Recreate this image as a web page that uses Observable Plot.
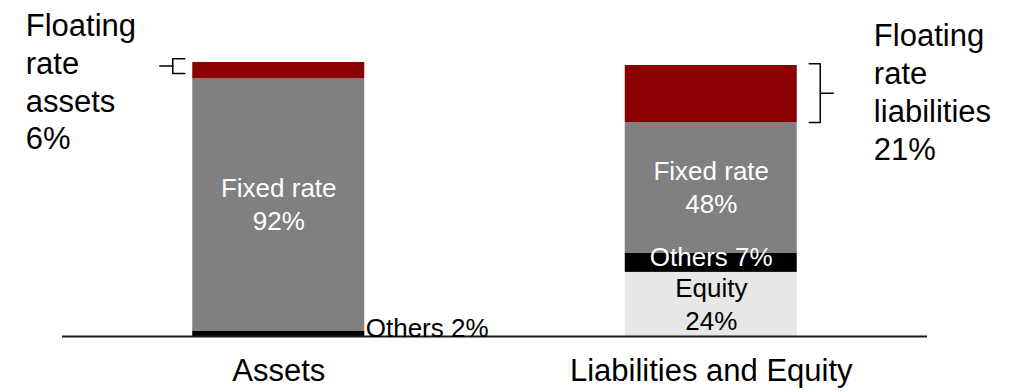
<!DOCTYPE html>
<html>
<head>
<meta charset="utf-8">
<script src="https://cdn.jsdelivr.net/npm/d3@7"></script>
<script src="https://cdn.jsdelivr.net/npm/@observablehq/plot@0.6"></script>
<style>
  html, body { margin: 0; padding: 0; background: #fff; }
  #chart svg { display: block; }
</style>
</head>
<body>
<div id="chart"></div>
<script>
// ---- data ----
const categories = ["Assets", "Liabilities and Equity"];
const assetSegments = ["Others", "Fixed rate", "Floating rate"];
const assetValues = [2, 92, 6];
const assetLabels = ["Others 2%", "Fixed rate\n92%", ""];
const liabilitySegments = ["Equity", "Others", "Fixed rate", "Floating rate"];
const liabilityValues = [23.4, 6.9, 47.8, 20.8];
const liabilityLabels = ["Equity\n24%", "Others 7%", "Fixed rate\n48%", ""];
const annotationLabels = ["Floating\nrate\nassets\n6%", "Floating\nrate\nliabilities\n21%"];

const segmentColors = {
  "Others": "#000000",
  "Fixed rate": "#808080",
  "Floating rate": "#8b0000",
  "Equity": "#e6e7e6"
};
const labelColors = {
  "Others": "#ffffff",
  "Fixed rate": "#ffffff",
  "Floating rate": "#ffffff",
  "Equity": "#000000"
};

// ---- build stacked rows ----
function buildRows(i, segs, vals, labels) {
  const ends = d3.cumsum(vals);
  return segs.map((s, k) => ({
    i, seg: s, value: vals[k], label: labels[k],
    y1: ends[k] - vals[k], y2: ends[k]
  }));
}
const rows = [
  ...buildRows(0, assetSegments, assetValues, assetLabels),
  ...buildRows(1, liabilitySegments, liabilityValues, liabilityLabels)
];

const pxPerUnit = 432.5;      // layout helper: pixels per category step
const hw = 86 / pxPerUnit;    // half bar width
const u = px => px / pxPerUnit;

const blockLabels = rows.filter(d => d.label && d.label.includes("\n"));
const othersInner = rows.filter(d => d.i === 1 && d.seg === "Others");
const outsideLabel = rows.filter(d => d.i === 0 && d.seg === "Others");

// brackets derived from floating segments
const fa = rows.find(d => d.i === 0 && d.seg === "Floating rate");
const fl = rows.find(d => d.i === 1 && d.seg === "Floating rate");
const lx = -hw;
const rx = 1 + hw;
const aTop = fa.y2 + 1.4, aBot = fa.y1 + 2.0, aMid = (aTop + aBot) / 2;
const lTop = fl.y2 + 0.6, lBot = fl.y1, lMid = (lTop + lBot) / 2;
const bracketPts = [
  {part: "a", x: lx - u(8), y: aTop},
  {part: "a", x: lx - u(20), y: aTop},
  {part: "a", x: lx - u(20), y: aBot},
  {part: "a", x: lx - u(8), y: aBot},
  {part: "at", x: lx - u(20), y: aMid},
  {part: "at", x: lx - u(33), y: aMid},
  {part: "l", x: rx + u(12), y: lTop},
  {part: "l", x: rx + u(23), y: lTop},
  {part: "l", x: rx + u(23), y: lBot},
  {part: "l", x: rx + u(12), y: lBot},
  {part: "lt", x: rx + u(23), y: lMid},
  {part: "lt", x: rx + u(36), y: lMid}
];

const annotations = [
  {x: -0.585, y: 119.5, text: annotationLabels[0]},
  {x: 1.376, y: 115.7, text: annotationLabels[1]}
];

const chart = Plot.plot({
  width: 1021,
  height: 392,
  marginLeft: 62,
  marginRight: 94,
  marginTop: 62,
  marginBottom: 56,
  style: {fontFamily: "'Liberation Sans', Arial, sans-serif", color: "#000", background: "#fff", overflow: "visible"},
  x: {domain: [-0.5, 1.5]},
  y: {domain: [0, 100], axis: null},
  color: {type: "identity"},
  marks: [
    Plot.rect(rows, {
      x1: d => d.i - hw, x2: d => d.i + hw,
      y1: "y1", y2: "y2",
      fill: d => segmentColors[d.seg]
    }),
    Plot.ruleY([0], {stroke: "#1a1a1a", strokeWidth: 2}),
    Plot.axisX([0, 1], {
      tickFormat: i => categories[i],
      tickSize: 0,
      tickPadding: 22,
      fontSize: 31,
      fill: "#000"
    }),
    Plot.text(blockLabels, {
      x: "i",
      y: d => (d.y1 + d.y2) / 2,
      text: "label",
      fill: d => labelColors[d.seg],
      fontSize: 26,
      lineHeight: 1.27,
      dy: -2
    }),
    Plot.text(othersInner, {
      x: "i",
      y: d => (d.y1 + d.y2) / 2,
      text: "label",
      fill: d => labelColors[d.seg],
      fontSize: 26,
      dy: -5
    }),
    Plot.text(outsideLabel, {
      x: d => d.i + hw,
      y: "y1",
      text: "label",
      textAnchor: "start",
      lineAnchor: "bottom",
      dx: 1,
      fill: "#000",
      fontSize: 26
    }),
    Plot.line(bracketPts, {x: "x", y: "y", z: "part", stroke: "#000", strokeWidth: 1.5}),
    Plot.text(annotations, {
      x: "x", y: "y", text: "text",
      textAnchor: "start",
      lineAnchor: "top",
      fill: "#000",
      fontSize: 31,
      lineHeight: 1.22
    })
  ]
});
document.getElementById("chart").appendChild(chart);
</script>
</body>
</html>
